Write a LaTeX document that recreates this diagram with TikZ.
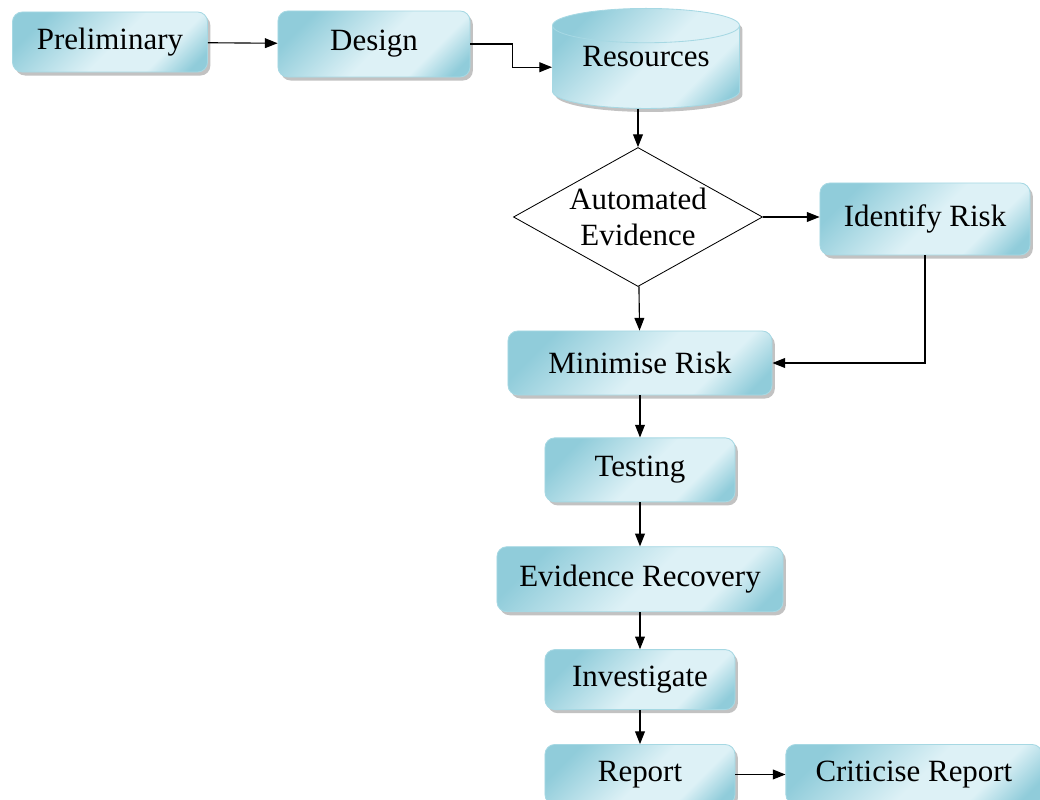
\documentclass[tikz,border=0pt]{standalone}
\usepackage{fontspec}
\setmainfont{Liberation Serif}
\usetikzlibrary{positioning,shapes.geometric,shadows,arrows.meta}

\definecolor{bxdark}{HTML}{90CCDA}
\definecolor{bxmid}{HTML}{B4DEE8}
\definecolor{bxlight}{HTML}{DDF1F6}
\definecolor{bxline}{HTML}{A6D8E3}
\pgfdeclarehorizontalshading{bxshade}{100bp}{color(0bp)=(bxdark); color(25bp)=(bxdark);
  color(52bp)=(bxlight); color(68bp)=(bxlight); color(80bp)=(bxdark); color(100bp)=(bxdark)}

\begin{document}
\begin{tikzpicture}[x=0.025cm, y=-0.025cm,
      -{Triangle[length=9pt,width=7pt]},
      line width=0.8pt,
      every node/.style={font=\fontsize{22}{26}\selectfont, inner sep=0pt},
      box/.style={rounded corners=7pt, draw=bxline, line width=0.6pt,
        shading=bxshade, shading angle=-45,
        drop shadow={shadow xshift=2pt, shadow yshift=-2.5pt, fill=black!40, opacity=.6}},
      node distance=1cm
      ]
    \useasboundingbox (0,0) rectangle (1040,800);

    \node (pre) [box, minimum width=4.875cm, minimum height=1.5cm] at (110,42) {Preliminary};
    \node (des) [box, minimum width=4.8cm, minimum height=1.65cm] at (374,44) {Design};
    \node (res) [box, cylinder, rounded corners=0pt, shape border rotate=90, aspect=0.27,
      text depth=15pt, anchor=north,
      minimum width=4.675cm, minimum height=2.5cm] at (646,8) {Resources};

    \node (auto) [diamond, draw=black, line width=0.6pt, fill=white, align=center,
      minimum width=6.225cm, minimum height=3.475cm, aspect=1.8] at (638,217)
      {Automated\\Evidence};
    \node (ident) [box, minimum width=5.25cm, minimum height=1.8cm] at (925,219) {Identify Risk};

    \node (mini) [box, minimum width=6.6cm, minimum height=1.6cm] at (640,363) {Minimise Risk};
    \node (test) [box, below=1.05cm of mini, minimum width=4.75cm, minimum height=1.6cm] {Testing};
    \node (recov) [box, below=1.1cm of test, minimum width=7.15cm, minimum height=1.625cm] {Evidence Recovery};
    \node (inv) [box, below=0.925cm of recov, minimum width=4.75cm, minimum height=1.5cm] {Investigate};
    \node (rep) [box, below=0.85cm of inv, minimum width=4.75cm, minimum height=1.5cm] {Report};
    \node (crit) [box, right=1.25cm of rep, minimum width=6.4cm, minimum height=1.5cm] {Criticise Report};

    \draw (pre) -- (des);
    \draw (des.east) -- ++(1.05cm,0) |- (res.west);
    \draw (auto.north |- res.south) -- (auto);
    \draw (auto.east) -- (auto.east -| ident.west);
    \draw (auto) -- (mini);
    \draw (ident.south) |- (mini.east);
    \draw (mini) -- (test);
    \draw (test) -- (recov);
    \draw (recov) -- (inv);
    \draw (inv) -- (rep);
    \draw (rep) -- (crit);
  \end{tikzpicture}
\end{document}
